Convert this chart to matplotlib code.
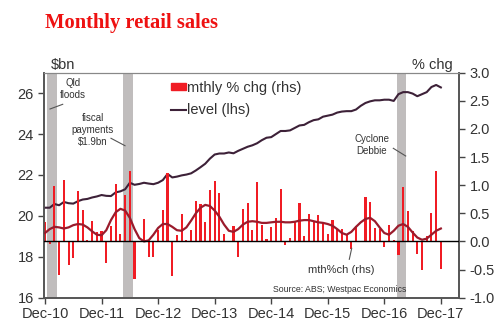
import numpy as np
import matplotlib.pyplot as plt
from matplotlib.patches import Patch
from matplotlib.lines import Line2D

plt.rcParams['font.family'] = ['Liberation Sans', 'DejaVu Sans']

# monthly % change (rhs), Dec-10 .. Dec-17
mthly_chg = [0.35, -0.05, 0.99, -0.60, 1.09, -0.42, -0.29, 0.89, 0.56, 0.02,
             0.36, 0.16, 0.18, -0.38, 0.28, 1.02, 0.13, 0.82, 1.26, -0.67,
             0.01, 0.40, -0.28, -0.27, 0.21, 0.56, 1.21, -0.62, 0.12, 0.48,
             0.02, 0.21, 0.72, 0.66, 0.35, 0.91, 1.08, 0.86, 0.13, 0.00,
             0.28, -0.28, 0.58, 0.68, 0.21, 1.06, 0.29, 0.04, 0.26, 0.42,
             0.93, -0.06, 0.07, 0.36, 0.69, 0.10, 0.49, 0.36, 0.47, 0.33,
             0.13, 0.38, 0.22, 0.22, 0.12, -0.14, 0.27, 0.01, 0.79, 0.71,
             0.24, 0.22, -0.09, 0.29, 0.03, -0.24, 0.97, 0.54, 0.18, -0.22,
             -0.50, 0.10, 0.51, 1.25, -0.49]
# smoothed mth%ch (rhs)
trend = [0.15, 0.22, 0.26, 0.25, 0.23, 0.25, 0.29, 0.31, 0.30, 0.25,
         0.18, 0.12, 0.11, 0.20, 0.38, 0.52, 0.58, 0.55, 0.42, 0.22,
         0.06, 0.00, 0.02, 0.12, 0.24, 0.31, 0.31, 0.26, 0.20, 0.19,
         0.25, 0.37, 0.50, 0.60, 0.65, 0.63, 0.55, 0.44, 0.30, 0.19,
         0.17, 0.22, 0.30, 0.35, 0.36, 0.35, 0.33, 0.33, 0.34, 0.35,
         0.35, 0.34, 0.34, 0.35, 0.37, 0.38, 0.38, 0.36, 0.34, 0.33,
         0.31, 0.28, 0.22, 0.15, 0.12, 0.17, 0.26, 0.34, 0.40, 0.42,
         0.36, 0.25, 0.15, 0.12, 0.19, 0.28, 0.31, 0.26, 0.16, 0.07,
         0.03, 0.05, 0.12, 0.19, 0.23]
# level, $bn (lhs)
level = [20.40, 20.40, 20.58, 20.52, 20.68, 20.62, 20.60, 20.72, 20.80, 20.83,
         20.90, 20.95, 21.02, 20.98, 20.97, 21.15, 21.20, 21.30, 21.62, 21.52,
         21.56, 21.62, 21.58, 21.55, 21.62, 21.75, 22.05, 21.88, 21.92, 21.98,
         22.02, 22.08, 22.22, 22.38, 22.55, 22.80, 23.00, 23.05, 23.05, 23.10,
         23.06, 23.18, 23.28, 23.38, 23.45, 23.55, 23.70, 23.82, 23.85, 24.00,
         24.15, 24.15, 24.18, 24.30, 24.42, 24.45, 24.58, 24.68, 24.72, 24.85,
         24.90, 24.95, 25.05, 25.10, 25.12, 25.12, 25.20, 25.38, 25.52, 25.60,
         25.65, 25.65, 25.68, 25.68, 25.62, 25.95, 26.05, 26.05, 25.98, 25.85,
         25.95, 26.05, 26.30, 26.40, 26.28]
# shaded events (months after Dec-10)
events = [(0.5, 2.5), (16.45, 18.75), (74.65, 76.55)]
xlabels = ['Dec-10', 'Dec-11', 'Dec-12', 'Dec-13', 'Dec-14', 'Dec-15', 'Dec-16', 'Dec-17']

red = '#f01c24'
purple = '#3d2138'
darkred = '#9a1b2c'
grey = '#333333'

m = np.arange(len(level))

fig = plt.figure(figsize=(5, 3.35), dpi=100)
ax = fig.add_axes([0.0886, 0.1113, 0.8294, 0.6717])
ax2 = ax.twinx()

for a, b in events:
    ax.axvspan(a, b, color='#c0bdbd', lw=0, zorder=0)

lvl, = ax.plot(m, level, color=purple, lw=1.5, zorder=3)
ax.set_ylim(16, 27)
ax.set_yticks([16, 18, 20, 22, 24, 26])
ax.set_xlim(-0.15, 87.85)
ax.set_xticks(np.arange(0, 85, 12))
ax.set_xticklabels(xlabels)

bars = ax2.bar(m, mthly_chg, width=0.45, color=red, lw=0, zorder=2)
ax2.plot(m, trend, color=darkred, lw=1.6, zorder=3)
ax2.axhline(0, color='black', lw=1, zorder=4)
ax2.set_ylim(-1, 3)
ax2.set_yticks(np.arange(-1, 3.01, 0.5))
ax2.set_yticklabels(['%.1f' % v for v in np.arange(-1, 3.01, 0.5)])

for a in (ax, ax2):
    a.tick_params(labelsize=10.5, colors='#444444', labelcolor=grey, length=4, width=1)
    for s in ['left', 'right', 'bottom']:
        a.spines[s].set_color('#555555')
        a.spines[s].set_linewidth(1.2)
    a.spines['top'].set_color('#888888')
ax.tick_params(axis='x', pad=3)

ax2.legend([Patch(color=red), Line2D([], [], color=purple, lw=1.5)],
           ['mthly % chg (rhs)', 'level (lhs)'],
           loc='upper left', bbox_to_anchor=(0.285, 1.0), frameon=False,
           fontsize=10.5, handlelength=1.05, handleheight=0.45, handletextpad=0.05,
           labelspacing=0.6, borderaxespad=0.15, labelcolor=grey)


def px(x, y):
    return x / 500, 1 - y / 335


fig.text(*px(45, 27.7), 'Monthly retail sales', family='Liberation Serif',
         weight='bold', size=14.8, color='#ee1111', va='baseline')
fig.text(*px(51, 65), '$bn', size=10.5, color=grey, va='center')
fig.text(*px(452.5, 64.5), '% chg', size=10.5, color=grey, va='center', ha='right')

note = dict(size=7, color=grey, ha='center', va='center', linespacing=1.25)
fig.text(*px(73, 89), 'Qld\nfloods', **note)
fig.text(*px(92.5, 130), 'fiscal\npayments\n$1.9bn', **note)
fig.text(*px(372, 144.5), 'Cyclone\nDebbie', **note)
fig.text(*px(341, 270), 'mth%ch (rhs)', size=8, color=grey, ha='center', va='center')
fig.text(*px(339.5, 290), 'Source: ABS; Westpac Economics', size=6.3, color=grey,
         ha='center', va='center')

for (x0, y0), (x1, y1) in [((50, 109), (62.7, 104.3)), ((111, 138.3), (125, 145.7)),
                           ((393.3, 148.3), (405.7, 156)), ((351.7, 248.3), (349.3, 259.3))]:
    fig.add_artist(Line2D([x0 / 500, x1 / 500], [1 - y0 / 335, 1 - y1 / 335],
                          color='#555555', lw=0.8))

plt.savefig('out.png', dpi=100)
